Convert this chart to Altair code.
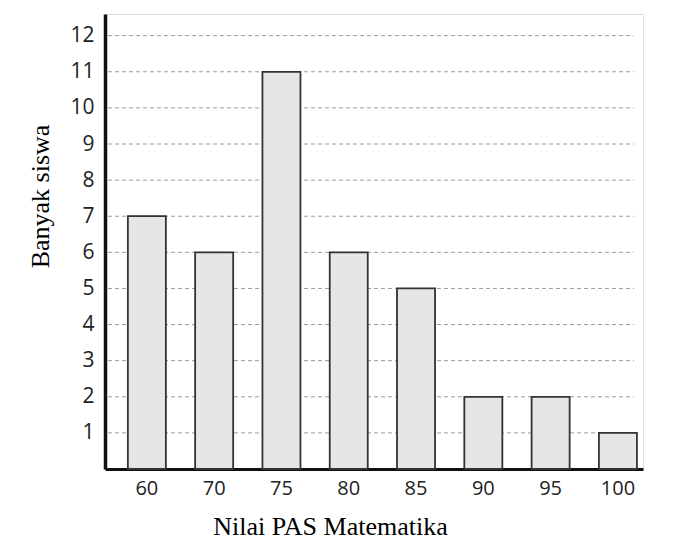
import altair as alt
import pandas as pd

nilai = ["60", "70", "75", "80", "85", "90", "95", "100"]
banyak = [7, 6, 11, 6, 5, 2, 2, 1]
y_ticks = [1, 2, 3, 4, 5, 6, 7, 8, 9, 10, 11, 12]

df = pd.DataFrame({"nilai": nilai, "banyak": banyak})
grid_df = pd.DataFrame({"banyak": y_ticks})

y_scale = alt.Scale(domain=[0, 12.6], nice=False, zero=True)

y_axis = alt.Axis(
    values=y_ticks,
    grid=False,
    title="Banyak siswa",
    titleFont="Liberation Serif",
    titleFontSize=26,
    titleFontWeight="normal",
    titleColor="#000000",
    titleX=-57,
    titleY=182,
    titleBaseline="alphabetic",
    titleAlign="center",
    titleAngle=270,
    labelFont="Open Sans",
    labelFontSize=21,
    labelColor="#222222",
    labelPadding=11,
    ticks=False,
    domainColor="#111111",
    domainWidth=3.5,
)

grid = alt.Chart(grid_df).mark_rule(
    color="#9a9a9a", strokeWidth=1, strokeDash=[4, 3]
).encode(
    y=alt.Y("banyak:Q", scale=y_scale, axis=y_axis),
    x=alt.value(3),
    x2=alt.value(529),
)

bars = alt.Chart(df).mark_bar(
    fill="#e6e6e6", stroke="#333333", strokeWidth=1.8
).encode(
    x=alt.X(
        "nilai:N",
        sort=nilai,
        scale=alt.Scale(paddingInner=0.435, paddingOuter=0.215, align=0.79),
        axis=alt.Axis(
            title="Nilai PAS Matematika",
            titleFont="Liberation Serif",
            titleFontSize=26,
            titleFontWeight="normal",
            titleColor="#000000",
            titleX=225,
            titleY=65,
            titleBaseline="alphabetic",
            titleAnchor="start",
            titleAlign="center",
            labelFont="Open Sans",
            labelFontSize=20,
            labelColor="#222222",
            labelAngle=0,
            labelPadding=9,
            ticks=False,
            domainColor="#111111",
            domainWidth=3,
        ),
    ),
    y=alt.Y("banyak:Q", scale=y_scale, axis=y_axis),
)

chart = alt.layer(grid, bars).properties(
    width=538,
    height=455,
    autosize=alt.AutoSizeParams(type="none"),
    padding={"left": 97, "top": 6, "right": 10, "bottom": 75},
).configure_view(strokeWidth=0, stroke="transparent").configure(background="#ffffff")

chart.save("out.html", embed_options={"renderer": "svg", "actions": False})
